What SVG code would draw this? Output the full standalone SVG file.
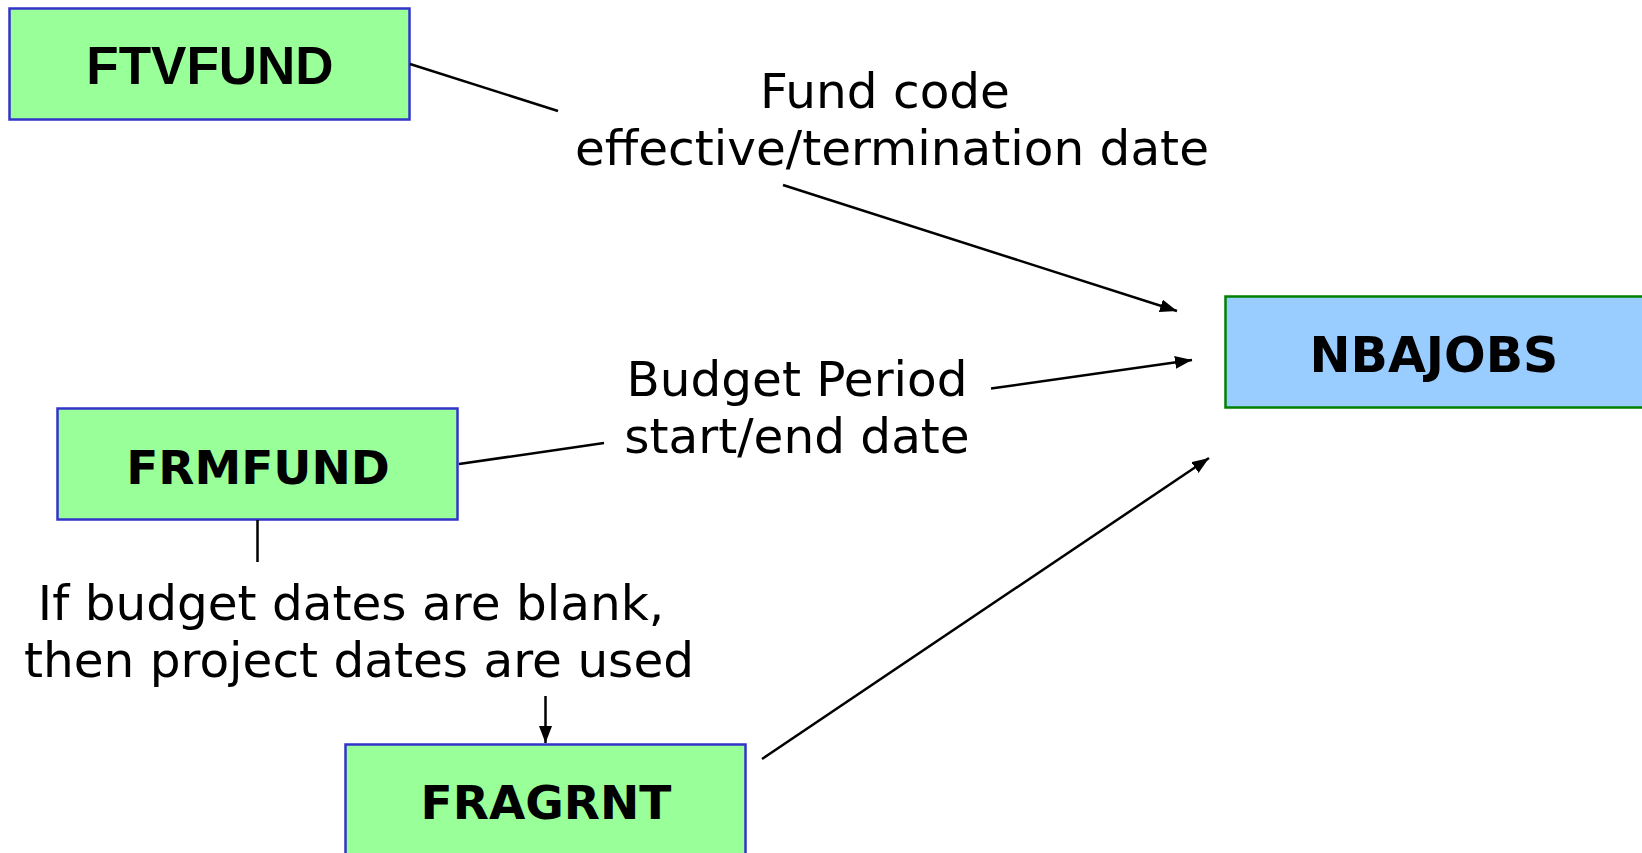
<svg xmlns="http://www.w3.org/2000/svg" width="1642" height="853" viewBox="0 0 1642 853">
  <style>
    .src rect { fill: #99ff99; stroke: #3333cc; stroke-width: 2.5; }
    .dst rect { fill: #99ccff; stroke: #008000; stroke-width: 2.5; }
    .name { font-family: "DejaVu Sans", Verdana, sans-serif; font-weight: bold; font-size: 47px; fill: #000; text-anchor: middle; }
    .label { font-family: "DejaVu Sans", Verdana, sans-serif; font-size: 48.5px; fill: #000; text-anchor: middle; }
    .link { stroke: #000; stroke-width: 2.5; fill: none; }
  </style>
  <defs>
    <marker id="arrow" markerUnits="userSpaceOnUse" markerWidth="18" markerHeight="14" refX="17" refY="6.5" orient="auto">
      <path d="M0,0 L17,6.5 L0,13 z" fill="#000"/>
    </marker>
  </defs>
  <rect width="1642" height="853" fill="#fff"/>

  <!-- source tables -->
  <g id="ftvfund" class="src">
    <rect x="9.5" y="8.5" width="400" height="111"/>
    <text x="210" y="84" class="name" style="font-family:'Liberation Sans', Arial, sans-serif; font-size:53px">FTVFUND</text>
  </g>
  <g id="frmfund" class="src">
    <rect x="57.5" y="408.5" width="400" height="111"/>
    <text x="258" y="484" class="name">FRMFUND</text>
  </g>
  <g id="fragrnt" class="src">
    <rect x="345.5" y="744.5" width="400" height="115"/>
    <text x="546" y="819" class="name">FRAGRNT</text>
  </g>

  <!-- target table -->
  <g id="nbajobs" class="dst">
    <rect x="1225.5" y="296.5" width="420" height="111"/>
    <text x="1434" y="372" class="name" style="font-size:49px">NBAJOBS</text>
  </g>

  <!-- connectors, broken around their labels -->
  <g id="connectors">
    <line class="link" x1="410" y1="64" x2="558" y2="111"/>
    <line class="link" x1="783" y1="185" x2="1177" y2="311" marker-end="url(#arrow)"/>
    <line class="link" x1="459" y1="464" x2="604" y2="443"/>
    <line class="link" x1="991" y1="388.5" x2="1192" y2="360" marker-end="url(#arrow)"/>
    <line class="link" x1="257.5" y1="520" x2="257.5" y2="562"/>
    <line class="link" x1="545.5" y1="696" x2="545.5" y2="743" marker-end="url(#arrow)"/>
    <line class="link" x1="762" y1="759" x2="1209" y2="458" marker-end="url(#arrow)"/>
  </g>

  <!-- connector labels -->
  <g id="labels">
    <text class="label" x="885" y="108">Fund code</text>
    <text class="label" x="892" y="165">effective/termination date</text>
    <text class="label" x="797" y="396">Budget Period</text>
    <text class="label" x="797" y="453">start/end date</text>
    <text class="label" x="351" y="620">If budget dates are blank,</text>
    <text class="label" x="359" y="677">then project dates are used</text>
  </g>
</svg>
